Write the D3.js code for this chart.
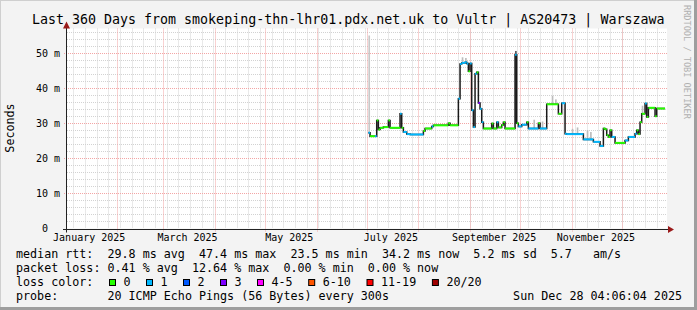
<!DOCTYPE html>
<html>
<head>
<meta charset="utf-8">
<script src="https://cdn.jsdelivr.net/npm/d3@7"></script>
<style>
  body { margin: 0; background: #f3f3f3; }
  svg { display: block; }
  text { font-family: "DejaVu Sans Mono", monospace; fill: #000; white-space: pre; }
</style>
</head>
<body>
<div id="chart"></div>
<script>
// median rtt samples (each value holds until the next date)
const sampleDates = [
  "2025-07-02","2025-07-03","2025-07-06","2025-07-07","2025-07-08","2025-07-09","2025-07-11",
  "2025-07-14","2025-07-15","2025-07-21","2025-07-22","2025-07-23","2025-07-25","2025-07-27",
  "2025-08-04","2025-08-05","2025-08-09","2025-08-10","2025-08-19","2025-08-20","2025-08-25",
  "2025-08-26","2025-08-27","2025-08-29","2025-08-30","2025-08-31","2025-09-01","2025-09-02",
  "2025-09-03","2025-09-04","2025-09-05","2025-09-06","2025-09-07","2025-09-08","2025-09-09",
  "2025-09-14","2025-09-15","2025-09-17","2025-09-18","2025-09-20","2025-09-21","2025-09-22",
  "2025-09-28","2025-09-29","2025-09-30","2025-10-02","2025-10-05","2025-10-06","2025-10-12",
  "2025-10-13","2025-10-17","2025-10-24","2025-10-26","2025-10-28","2025-10-29","2025-11-08",
  "2025-11-14","2025-11-18","2025-11-20","2025-11-21","2025-11-22","2025-11-23","2025-11-24",
  "2025-11-25","2025-11-27","2025-12-03","2025-12-05","2025-12-09","2025-12-10","2025-12-11",
  "2025-12-12","2025-12-13","2025-12-15","2025-12-16","2025-12-17","2025-12-21","2025-12-22"
];
const medianMs = [
  27.3, 26.3, 26.3, 30.8, 28.2, 28.7, 28.9,
  30.8, 28.7, 32.7, 28.7, 27.5, 26.9, 26.8,
  27.8, 28.5, 29.1, 29.4, 30.0, 29.4, 37.0,
  46.9, 47.2, 47.4, 47.0, 44.8, 47.0, 33.7,
  28.9, 44.1, 44.5, 35.8, 34.1, 30.3, 28.5,
  29.9, 28.5, 30.3, 28.8, 29.5, 30.3, 28.5,
  49.5, 30.0, 29.1, 29.6, 30.3, 28.5, 30.0,
  28.5, 35.4, 32.7, 35.7, 27.0, 26.9, 25.4,
  24.7, 23.5, 28.5, 28.3, 26.6, 26.1, 28.0,
  26.1, 24.4, 25.1, 26.1, 27.0, 28.0, 26.9,
  30.3, 32.7, 35.6, 31.8, 34.4, 32.0, 34.2
];
const lossIdx = [
  1, 0, 1, 0, 0, 0, 0,
  0, 0, 1, 0, 1, 1, 1,
  0, 0, 1, 0, 0, 0, 1,
  1, 1, 1, 1, 0, 1, 1,
  1, 1, 0, 3, 1, 1, 0,
  0, 0, 1, 0, 0, 0, 0,
  1, 0, 1, 1, 0, 1, 0,
  1, 0, 0, 1, 1, 1, 1,
  1, 1, 0, 0, 0, 0, 0,
  1, 0, 1, 1, 1, 0, 0,
  0, 0, 1, 0, 0, 0, 0
];
const lastSample = "2025-12-27";

// smoke (ping spread) around a few samples
const smokeDates = ["2025-07-02","2025-08-27","2025-08-29","2025-09-28","2025-10-09","2025-10-14",
                    "2025-10-20","2025-10-22","2025-11-01","2025-11-04","2025-11-10","2025-11-12","2025-12-13"];
const smokeLow  = [27.0, 47.2, 47.4, 30.0, 28.5, 28.5, 35.4, 35.4, 26.9, 26.9, 25.4, 25.4, 32.7];
const smokeHigh = [55.0, 48.8, 48.6, 50.6, 31.0, 30.5, 37.8, 36.8, 28.4, 28.8, 28.0, 27.5, 35.0];

const lossLabels = ["0", "1", "2", "3", "4-5", "6-10", "11-19", "20/20"];
const lossColors = ["#26ff00", "#00b8ff", "#0059ff", "#7e00ff", "#ff00ff", "#ff5500", "#ff0000", "#a00000"];

const monthLabels = ["January 2025", "March 2025", "May 2025", "July 2025", "September 2025", "November 2025"];
const monthLabelDates = ["2025-01-15T12:00", "2025-03-15T12:00", "2025-05-15T12:00",
                         "2025-07-15T12:00", "2025-09-15T12:00", "2025-11-15T12:00"];
const yTicks = [0, 10, 20, 30, 40, 50];
const yTickLabels = ["0  ", "10 m", "20 m", "30 m", "40 m", "50 m"];

const title = "Last 360 Days from smokeping-thn-lhr01.pdx.net.uk to Vultr | AS20473 | Warszawa";
const rttLine = "median rtt:  29.8 ms avg  47.4 ms max  23.5 ms min  34.2 ms now  5.2 ms sd  5.7   am/s";
const lossLine = "packet loss: 0.41 % avg  12.64 % max  0.00 % min  0.00 % now";
const probeLine = "probe:       20 ICMP Echo Pings (56 Bytes) every 300s";
const stampText = "Sun Dec 28 04:06:04 2025";

const width = 697;
const height = 310;
const parse = s => new Date(s.length > 10 ? s + "Z" : s + "T00:00Z");

const svg = d3.select("#chart")
  .append("svg")
  .attr("width", width)
  .attr("height", height);

// frame
svg.append("rect").attr("width", width).attr("height", height).attr("fill", "#f3f3f3");
svg.append("path").attr("d", `M0,${height} V0 H${width}`).attr("stroke", "#cfcfcf").attr("stroke-width", 2).attr("fill", "none");
svg.append("path").attr("d", `M0,${height - 1.5} H${width - 1.5} V0`).attr("stroke", "#9e9e9e").attr("stroke-width", 3).attr("fill", "none");

const x = d3.scaleUtc()
  .domain([parse("2025-01-02T04:06:04"), parse("2025-12-28T04:06:04")])
  .range([67, 667]);

const y = d3.scaleLinear()
  .domain([0, 57])
  .range([228.5, 28.5]);

const px = v => Math.round(v) + 0.5;
const [x0, x1] = x.range();
const [yb, yt] = y.range();

svg.append("rect")
  .attr("x", x0).attr("y", yt)
  .attr("width", x1 - x0).attr("height", yb - yt)
  .attr("fill", "#fff");

// grid
const grid = svg.append("g");
const minorY = d3.range(2, 57, 2).filter(v => v % 10 !== 0);
grid.selectAll(".gy").data(minorY).join("line")
  .attr("x1", x0).attr("x2", x1)
  .attr("y1", d => px(y(d))).attr("y2", d => px(y(d)))
  .attr("stroke", "#d2d2d2").attr("stroke-dasharray", "1,1");

const weeks = d3.utcMonday.range(x.domain()[0], x.domain()[1]);
grid.selectAll(".gx").data(weeks).join("line")
  .attr("x1", d => px(x(d))).attr("x2", d => px(x(d)))
  .attr("y1", yt).attr("y2", yb)
  .attr("stroke", "#d2d2d2").attr("stroke-dasharray", "1,1");

const months = d3.utcMonth.range(x.domain()[0], x.domain()[1]);
grid.selectAll(".mx").data(months).join("line")
  .attr("x1", d => px(x(d))).attr("x2", d => px(x(d)))
  .attr("y1", yt).attr("y2", yb + 3)
  .attr("stroke", "#f3a5a5").attr("stroke-dasharray", "1,1");

grid.selectAll(".my").data(yTicks.slice(1)).join("line")
  .attr("x1", x0 - 3).attr("x2", x1)
  .attr("y1", d => px(y(d))).attr("y2", d => px(y(d)))
  .attr("stroke", "#f3a5a5").attr("stroke-dasharray", "1,1");

// smoke
const day = 864e5;
svg.append("g").selectAll("rect").data(smokeDates).join("rect")
  .attr("x", d => x(parse(d)))
  .attr("width", d => Math.max(1, x(new Date(+parse(d) + day)) - x(parse(d))))
  .attr("y", (d, i) => y(smokeHigh[i]))
  .attr("height", (d, i) => y(smokeLow[i]) - y(smokeHigh[i]))
  .attr("fill", (d, i) => i === 0 ? "#c8c8c8" : i === 3 ? "#555" : "#bdbdbd");

// median: dark step line, then loss-coloured horizontal pieces
const samples = sampleDates.map((d, i) => ({ t: parse(d), v: medianMs[i], loss: lossIdx[i] }));
samples.forEach((s, i) => { s.t1 = i < samples.length - 1 ? samples[i + 1].t : parse(lastSample); });

const stepLine = d3.line()
  .x(d => x(d.t)).y(d => y(d.v))
  .curve(d3.curveStepAfter);

svg.append("path")
  .datum(samples.concat([{ t: parse(lastSample), v: medianMs[medianMs.length - 1] }]))
  .attr("d", stepLine)
  .attr("fill", "none")
  .attr("stroke", "#1a1a1a")
  .attr("stroke-width", 1.5);

svg.append("g").selectAll("line").data(samples).join("line")
  .attr("x1", d => x(d.t)).attr("x2", d => Math.max(x(d.t1), x(d.t) + 1.5))
  .attr("y1", d => y(d.v)).attr("y2", d => y(d.v))
  .attr("stroke", d => lossColors[d.loss])
  .attr("stroke-width", 2);

// axes
svg.append("line").attr("x1", x0 - 4).attr("x2", x1 + 2).attr("y1", px(yb)).attr("y2", px(yb))
  .attr("stroke", "#222");
svg.append("path").attr("d", `M${x1 + 1},${px(yb) - 3.5} L${x1 + 7},${px(yb)} L${x1 + 1},${px(yb) + 3.5} Z`)
  .attr("fill", "#9a1a1a");
svg.append("line").attr("x1", px(x0) - 1).attr("x2", px(x0) - 1).attr("y1", yb + 4).attr("y2", yt - 2)
  .attr("stroke", "#222");
svg.append("path").attr("d", `M${px(x0) - 4.5},${yt} L${px(x0) - 1},${yt - 7} L${px(x0) + 2.5},${yt} Z`)
  .attr("fill", "#9a1a1a");

svg.append("g").selectAll("text").data(yTicks).join("text")
  .attr("x", 60).attr("y", d => y(d) + 3.5)
  .attr("text-anchor", "end")
  .attr("font-size", 10)
  .text((d, i) => yTickLabels[i]);

svg.append("g").selectAll("text").data(monthLabelDates).join("text")
  .attr("x", d => x(parse(d)))
  .attr("y", 241)
  .attr("text-anchor", "middle")
  .attr("font-size", 10)
  .text((d, i) => monthLabels[i]);

svg.append("text")
  .attr("transform", "translate(14,128) rotate(-90)")
  .attr("text-anchor", "middle")
  .attr("font-size", 11.7)
  .text("Seconds");

svg.append("text")
  .attr("x", 32).attr("y", 24)
  .attr("font-size", 13.3)
  .text(title);

svg.append("text")
  .attr("transform", "translate(684,5) rotate(90)")
  .attr("font-size", 8.6)
  .style("fill", "#b0b0b0")
  .text("RRDTOOL / TOBI OETIKER");

// legend
const cw = 7.1;
const legend = svg.append("g").attr("font-size", 11.7);
legend.append("text").attr("x", 16).attr("y", 258).text(rttLine);
legend.append("text").attr("x", 16).attr("y", 272).text(lossLine);
legend.append("text").attr("x", 16).attr("y", 286).text("loss color:");
legend.append("text").attr("x", 16).attr("y", 299.5).text(probeLine);
legend.append("text").attr("x", 682).attr("y", 299.5).attr("text-anchor", "end").text(stampText);

let lx = 109;
lossLabels.forEach((lab, i) => {
  legend.append("rect")
    .attr("x", lx + 0.5).attr("y", 279.5)
    .attr("width", 6).attr("height", 6)
    .attr("fill", lossColors[i]).attr("stroke", "#000");
  legend.append("text").attr("x", lx + 14.5).attr("y", 286).text(lab);
  lx += (lab.length + 4) * cw + 1.5;
});
</script>
</body>
</html>
